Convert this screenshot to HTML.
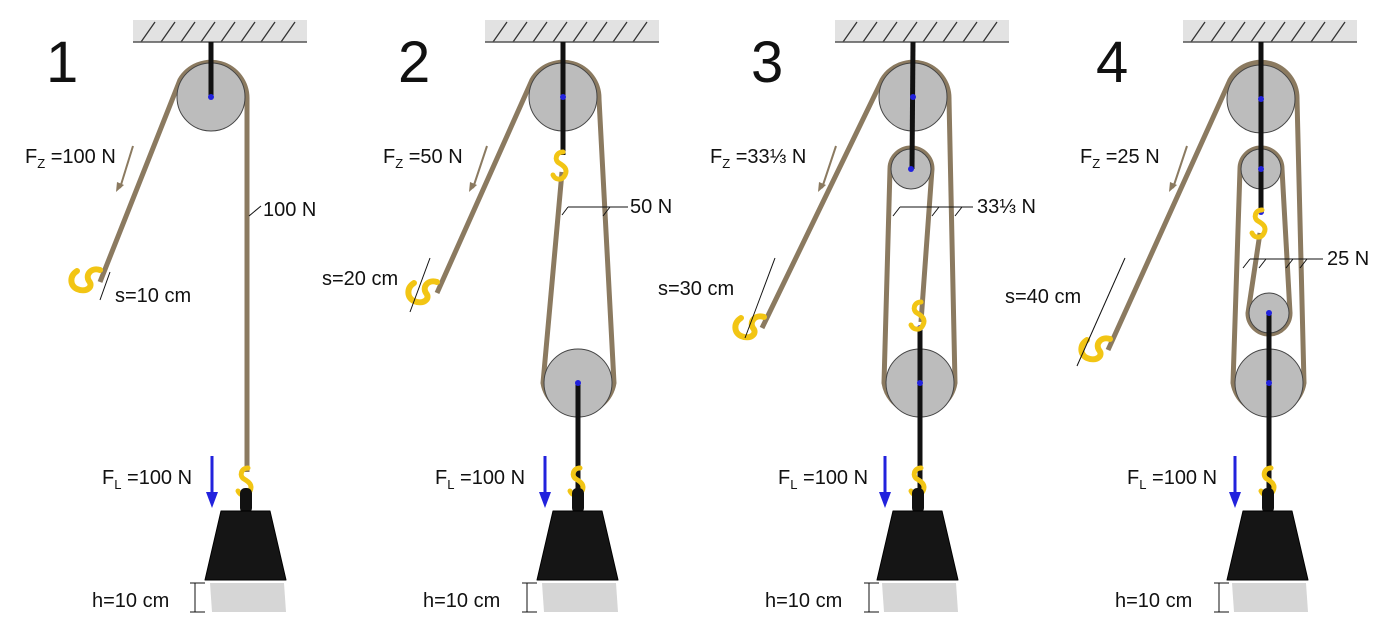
<!DOCTYPE html>
<html><head><meta charset="utf-8"><style>
html,body{margin:0;padding:0;background:#fff;width:1400px;height:626px;overflow:hidden}
text{font-family:"Liberation Sans",sans-serif;fill:#111}
</style></head><body>
<svg width="1400" height="626" viewBox="0 0 1400 626" xmlns="http://www.w3.org/2000/svg">
<defs>
<g id="ceil">
<rect x="-78" y="20" width="174" height="22" fill="#e2e2e2"/>
<path d="M-70 42l14-20M-50 42l14-20M-30 42l14-20M-10 42l14-20M10 42l14-20M30 42l14-20M50 42l14-20M70 42l14-20" stroke="#333" stroke-width="1.3"/>
<line x1="-78" y1="42" x2="96" y2="42" stroke="#555" stroke-width="1.5"/>
</g>
<g id="weight">
<rect x="-6" y="-23" width="12" height="25" rx="5" fill="#111"/>
<path d="M-25 0H24L40 69H-41Z" fill="#151515" stroke="#000" stroke-linejoin="round"/>
<path d="M-36 72H38L40 101H-34Z" fill="#d6d6d6"/>
</g>
<g id="hookv">
<path d="M0 0c-7 0-9 8-4 11c5 3 9 6 6 12c-3 6-10 5-12 0" fill="none" stroke="#f2c514" stroke-width="5" stroke-linecap="round"/>
</g>
<g id="hand">
<path d="M0 -10c-9-3-15 5-11 11c5 6-3 12-12 8c-7-3-8-13 0-18" fill="none" stroke="#f2c514" stroke-width="6" stroke-linecap="round"/>
</g>
</defs>

<!-- Panel 1 -->
<g>
<text x="46" y="82" font-size="58">1</text>
<use href="#ceil" x="211"/>
<path d="M100 282L180 80A36 36 0 0 1 247 99V472" fill="none" stroke="#8b7a60" stroke-width="5"/>
<circle cx="211" cy="97" r="34" fill="#bcbcbc" stroke="#444"/>
<line x1="211" y1="42" x2="211" y2="97" stroke="#111" stroke-width="5"/>
<circle cx="211" cy="97" r="3" fill="#22d"/>
<use href="#hand" x="100" y="280"/>
<line x1="133" y1="146" x2="120" y2="188" stroke="#8b7a60" stroke-width="2"/><path d="M116 192l1-10 7 3z" fill="#8b7a60"/>
<text x="25" y="163" font-size="20">F<tspan font-size="13" dy="5">Z</tspan><tspan dy="-5"> =100 N</tspan></text>
<text x="263" y="216" font-size="20">100 N</text>
<path d="M261 206l-12 10" stroke="#111"/>
<text x="115" y="302" font-size="20">s=10 cm</text>
<line x1="110" y1="272" x2="100" y2="300" stroke="#111" stroke-width="1"/>
<use href="#hookv" x="248" y="468"/>
<use href="#weight" x="246" y="511"/>
<line x1="212" y1="456" x2="212" y2="495" stroke="#22d" stroke-width="3"/><path d="M206 492h12l-6 16z" fill="#22d"/>
<text x="102" y="484" font-size="20">F<tspan font-size="13" dy="5">L</tspan><tspan dy="-5"> =100 N</tspan></text>
<text x="92" y="607" font-size="20">h=10 cm</text>
<path d="M195 583v29M190 583h15M190 612h15" stroke="#111"/>
</g>

<!-- Panel 2 -->
<g>
<text x="398" y="82" font-size="58">2</text>
<use href="#ceil" x="563"/>
<path d="M437 293L532 80A36 36 0 0 1 599 99L614 383A36 36 0 0 1 543 383L562 172" fill="none" stroke="#8b7a60" stroke-width="5"/>
<circle cx="563" cy="97" r="34" fill="#bcbcbc" stroke="#444"/>
<line x1="563" y1="42" x2="563" y2="155" stroke="#111" stroke-width="5"/>
<circle cx="563" cy="97" r="3" fill="#22d"/>
<circle cx="578" cy="383" r="34" fill="#bcbcbc" stroke="#444"/>
<line x1="578" y1="383" x2="578" y2="490" stroke="#111" stroke-width="5"/>
<circle cx="578" cy="383" r="3" fill="#22d"/>
<use href="#hookv" x="563" y="152"/>
<use href="#hand" x="437" y="292"/>
<line x1="487" y1="146" x2="473" y2="188" stroke="#8b7a60" stroke-width="2"/><path d="M469 192l1-10 7 3z" fill="#8b7a60"/>
<text x="383" y="163" font-size="20">F<tspan font-size="13" dy="5">Z</tspan><tspan dy="-5"> =50 N</tspan></text>
<text x="630" y="213" font-size="20">50 N</text>
<path d="M628 207H568M568 207l-6 8M610 207l-7 9" stroke="#111"/>
<text x="322" y="285" font-size="20">s=20 cm</text>
<path d="M430 258L410 312" stroke="#111"/>
<use href="#hookv" x="580" y="468"/>
<use href="#weight" x="578" y="511"/>
<line x1="545" y1="456" x2="545" y2="495" stroke="#22d" stroke-width="3"/><path d="M539 492h12l-6 16z" fill="#22d"/>
<text x="435" y="484" font-size="20">F<tspan font-size="13" dy="5">L</tspan><tspan dy="-5"> =100 N</tspan></text>
<text x="423" y="607" font-size="20">h=10 cm</text>
<path d="M527 583v29M522 583h15M522 612h15" stroke="#111"/>
</g>

<!-- Panel 3 -->
<g>
<text x="751" y="82" font-size="58">3</text>
<use href="#ceil" x="913"/>
<path d="M762 328L882 80A36 36 0 0 1 949 99L955 383A36 36 0 0 1 884 383L890 169A21 21 0 0 1 932 169L921 322" fill="none" stroke="#8b7a60" stroke-width="5"/>
<circle cx="913" cy="97" r="34" fill="#bcbcbc" stroke="#444"/>
<circle cx="911" cy="169" r="20" fill="#bcbcbc" stroke="#444"/>
<line x1="913" y1="42" x2="912" y2="169" stroke="#111" stroke-width="5"/>
<circle cx="913" cy="97" r="3" fill="#22d"/><circle cx="911" cy="169" r="3" fill="#22d"/>
<circle cx="920" cy="383" r="34" fill="#bcbcbc" stroke="#444"/>
<line x1="920" y1="328" x2="920" y2="490" stroke="#111" stroke-width="5"/>
<circle cx="920" cy="383" r="3" fill="#22d"/><circle cx="920" cy="328" r="3" fill="#22d"/>
<use href="#hookv" x="921" y="302"/>
<use href="#hand" x="764" y="327"/>
<line x1="836" y1="146" x2="822" y2="188" stroke="#8b7a60" stroke-width="2"/><path d="M818 192l1-10 7 3z" fill="#8b7a60"/>
<text x="710" y="163" font-size="20">F<tspan font-size="13" dy="5">Z</tspan><tspan dy="-5"> =33⅓ N</tspan></text>
<text x="977" y="213" font-size="20">33⅓ N</text>
<path d="M973 207H900M900 207l-7 9M939 207l-7 9M962 207l-7 9" stroke="#111"/>
<text x="658" y="295" font-size="20">s=30 cm</text>
<path d="M775 258L745 338" stroke="#111"/>
<use href="#hookv" x="921" y="468"/>
<use href="#weight" x="918" y="511"/>
<line x1="885" y1="456" x2="885" y2="495" stroke="#22d" stroke-width="3"/><path d="M879 492h12l-6 16z" fill="#22d"/>
<text x="778" y="484" font-size="20">F<tspan font-size="13" dy="5">L</tspan><tspan dy="-5"> =100 N</tspan></text>
<text x="765" y="607" font-size="20">h=10 cm</text>
<path d="M869 583v29M864 583h15M864 612h15" stroke="#111"/>
</g>

<!-- Panel 4 -->
<g>
<text x="1096" y="82" font-size="58">4</text>
<use href="#ceil" x="1261"/>
<path d="M1108 350L1230 80A36 36 0 0 1 1297 99L1304 383A36 36 0 0 1 1233 383L1240 169A21 21 0 0 1 1282 169L1290 313A21 21 0 0 1 1248 313L1260 233" fill="none" stroke="#8b7a60" stroke-width="5"/>
<circle cx="1261" cy="99" r="34" fill="#bcbcbc" stroke="#444"/>
<circle cx="1261" cy="169" r="20" fill="#bcbcbc" stroke="#444"/>
<line x1="1261" y1="42" x2="1261" y2="213" stroke="#111" stroke-width="5"/>
<circle cx="1261" cy="99" r="3" fill="#22d"/><circle cx="1261" cy="169" r="3" fill="#22d"/><circle cx="1261" cy="212" r="3" fill="#22d"/>
<use href="#hookv" x="1262" y="210"/>
<circle cx="1269" cy="313" r="20" fill="#bcbcbc" stroke="#444"/>
<circle cx="1269" cy="383" r="34" fill="#bcbcbc" stroke="#444"/>
<line x1="1269" y1="313" x2="1269" y2="490" stroke="#111" stroke-width="5"/>
<circle cx="1269" cy="313" r="3" fill="#22d"/><circle cx="1269" cy="383" r="3" fill="#22d"/>
<use href="#hand" x="1110" y="349"/>
<line x1="1187" y1="146" x2="1173" y2="188" stroke="#8b7a60" stroke-width="2"/><path d="M1169 192l1-10 7 3z" fill="#8b7a60"/>
<text x="1080" y="163" font-size="20">F<tspan font-size="13" dy="5">Z</tspan><tspan dy="-5"> =25 N</tspan></text>
<text x="1327" y="265" font-size="20">25 N</text>
<path d="M1323 259H1250M1250 259l-7 9M1266 259l-7 9M1293 259l-7 9M1307 259l-7 9" stroke="#111"/>
<text x="1005" y="303" font-size="20">s=40 cm</text>
<path d="M1125 258L1077 366" stroke="#111"/>
<use href="#hookv" x="1271" y="468"/>
<use href="#weight" x="1268" y="511"/>
<line x1="1235" y1="456" x2="1235" y2="495" stroke="#22d" stroke-width="3"/><path d="M1229 492h12l-6 16z" fill="#22d"/>
<text x="1127" y="484" font-size="20">F<tspan font-size="13" dy="5">L</tspan><tspan dy="-5"> =100 N</tspan></text>
<text x="1115" y="607" font-size="20">h=10 cm</text>
<path d="M1219 583v29M1214 583h15M1214 612h15" stroke="#111"/>
</g>
</svg>
</body></html>
